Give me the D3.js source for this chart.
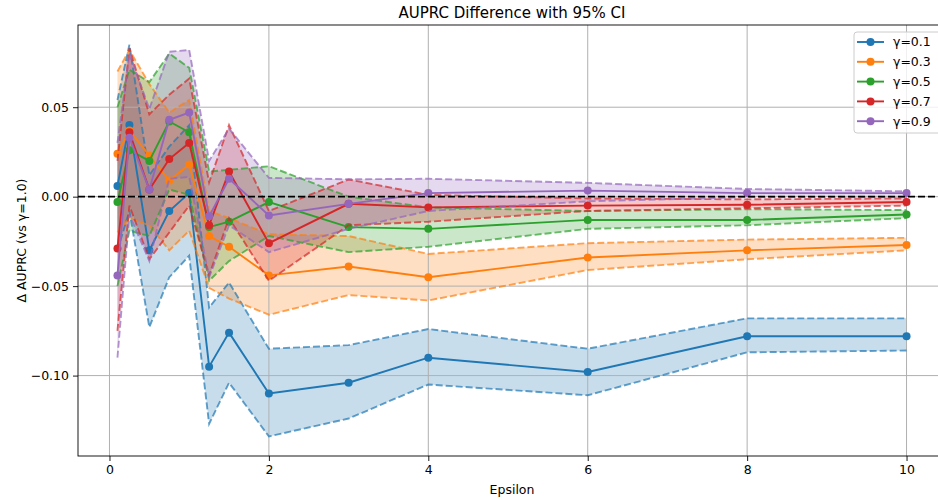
<!DOCTYPE html>
<html>
<head>
<meta charset="utf-8">
<script src="https://cdn.jsdelivr.net/npm/d3@7"></script>
<style>
  body { margin: 0; background: #fff; }
  svg { font-family: "DejaVu Sans", sans-serif; }
</style>
</head>
<body>
<div id="chart"></div>
<script>
// epsilon values on the x axis
var epsilons = [0.1, 0.25, 0.5, 0.75, 1.0, 1.25, 1.5, 2, 3, 4, 6, 8, 10];
var gammaLabels = ["γ=0.1", "γ=0.3", "γ=0.5", "γ=0.7", "γ=0.9"];
var colors = ["#1f77b4", "#ff7f0e", "#2ca02c", "#d62728", "#9467bd"];
var xTicks = [0, 2, 4, 6, 8, 10];
var yTicks = [-0.10, -0.05, 0.00, 0.05];

// mean difference and 95% CI per gamma
var mean01 = [0.006, 0.040, -0.030, -0.008, 0.002, -0.095, -0.076, -0.110, -0.104, -0.090, -0.098, -0.078, -0.078];
var lower01 = [-0.030, -0.008, -0.073, -0.045, -0.033, -0.127, -0.104, -0.134, -0.124, -0.105, -0.111, -0.087, -0.086];
var upper01 = [0.054, 0.085, 0.012, 0.028, 0.040, -0.062, -0.048, -0.085, -0.083, -0.074, -0.085, -0.068, -0.068];

var mean03 = [0.024, 0.037, 0.023, 0.009, 0.018, -0.022, -0.028, -0.044, -0.039, -0.045, -0.034, -0.030, -0.027];
var lower03 = [-0.020, -0.012, -0.016, -0.030, -0.019, -0.051, -0.057, -0.066, -0.055, -0.058, -0.041, -0.035, -0.030];
var upper03 = [0.070, 0.082, 0.063, 0.047, 0.054, -0.008, -0.012, -0.021, -0.022, -0.032, -0.026, -0.024, -0.023];

var mean05 = [-0.003, 0.026, 0.020, 0.042, 0.036, -0.017, -0.014, -0.003, -0.017, -0.018, -0.013, -0.013, -0.010];
var lower05 = [-0.050, -0.019, -0.022, 0.004, 0.001, -0.047, -0.036, -0.022, -0.031, -0.028, -0.018, -0.016, -0.012];
var upper05 = [0.050, 0.071, 0.064, 0.080, 0.072, 0.014, 0.015, 0.017, 0.000, -0.006, -0.008, -0.007, -0.0075];

var mean07 = [-0.029, 0.036, 0.004, 0.021, 0.030, -0.016, 0.014, -0.026, -0.004, -0.006, -0.005, -0.0045, -0.003];
var lower07 = [-0.075, -0.005, -0.035, -0.020, -0.005, -0.044, -0.012, -0.047, -0.016, -0.014, -0.008, -0.0065, -0.005];
var upper07 = [0.020, 0.083, 0.046, 0.057, 0.066, 0.008, 0.040, -0.008, 0.0096, 0.001, -0.001, -0.0015, -0.001];

var mean09 = [-0.044, 0.033, 0.004, 0.043, 0.047, -0.011, 0.010, -0.0105, -0.004, 0.002, 0.0034, 0.002, 0.002];
var lower09 = [-0.090, -0.010, -0.036, 0.010, 0.011, -0.045, -0.016, -0.031, -0.018, -0.008, -0.0026, -0.0003, -0.0003];
var upper09 = [0.030, 0.080, 0.049, 0.081, 0.082, 0.020, 0.038, 0.0105, 0.0097, 0.010, 0.0077, 0.0043, 0.003];

var means = [mean01, mean03, mean05, mean07, mean09];
var lowers = [lower01, lower03, lower05, lower07, lower09];
var uppers = [upper01, upper03, upper05, upper07, upper09];

var width = 938, height = 500;
var mLeft = 78, mRight = 946, mTop = 25, mBottom = 456;

var svg = d3.select("#chart").append("svg")
    .attr("width", width).attr("height", height)
    .style("overflow", "hidden");

// matplotlib style 5% padding
var xExt = d3.extent(epsilons);
var xPad = (xExt[1] - xExt[0]) * 0.05;
var allY = d3.merge(lowers.concat(uppers).concat(means));
var yExt = d3.extent(allY);
var yPad = (yExt[1] - yExt[0]) * 0.05;

var x = d3.scaleLinear().domain([xExt[0] - xPad, xExt[1] + xPad]).range([mLeft, mRight]);
var y = d3.scaleLinear().domain([yExt[0] - yPad, yExt[1] + yPad]).range([mBottom, mTop]);

var plot = svg.append("g");
plot.append("clipPath").attr("id", "clip")
  .append("rect").attr("x", mLeft).attr("y", mTop).attr("width", mRight - mLeft).attr("height", mBottom - mTop);
var inner = plot.append("g").attr("clip-path", "url(#clip)");

// CI fills
var area = d3.area()
    .x(function(d, i) { return x(epsilons[i]); })
    .y0(function(d) { return d[0]; })
    .y1(function(d) { return d[1]; });
for (var g = 0; g < means.length; g++) {
  var band = epsilons.map(function(e, i) { return [y(lowers[g][i]), y(uppers[g][i])]; });
  inner.append("path").datum(band).attr("d", area)
    .attr("fill", colors[g]).attr("fill-opacity", 0.25).attr("stroke", "none");
}

// grid
inner.selectAll(".gx").data(xTicks).enter().append("line")
  .attr("x1", function(d) { return x(d); }).attr("x2", function(d) { return x(d); })
  .attr("y1", mTop).attr("y2", mBottom)
  .attr("stroke", "#b0b0b0").attr("stroke-width", 1);
inner.selectAll(".gy").data(yTicks).enter().append("line")
  .attr("x1", mLeft).attr("x2", mRight)
  .attr("y1", function(d) { return y(d); }).attr("y2", function(d) { return y(d); })
  .attr("stroke", "#b0b0b0").attr("stroke-width", 1);

var line = d3.line()
    .x(function(d, i) { return x(epsilons[i]); })
    .y(function(d) { return y(d); });

for (var g = 0; g < means.length; g++) {
  inner.append("path").datum(means[g]).attr("d", line)
    .attr("fill", "none").attr("stroke", colors[g]).attr("stroke-width", 1.9);
  inner.selectAll(".pt" + g).data(means[g]).enter().append("circle")
    .attr("cx", function(d, i) { return x(epsilons[i]); })
    .attr("cy", function(d) { return y(d); })
    .attr("r", 4).attr("fill", colors[g]);
  [lowers[g], uppers[g]].forEach(function(arr) {
    inner.append("path").datum(arr).attr("d", line)
      .attr("fill", "none").attr("stroke", colors[g]).attr("stroke-width", 1.9)
      .attr("stroke-opacity", 0.7).attr("stroke-dasharray", "7,3");
  });
}

// zero reference line
inner.append("line")
  .attr("x1", mLeft).attr("x2", mRight)
  .attr("y1", y(0)).attr("y2", y(0))
  .attr("stroke", "#000").attr("stroke-width", 1.9).attr("stroke-dasharray", "7,3");

// axes
var fmtY = function(d) { return d3.format(".2f")(d).replace("-", "\u2212"); };
var xAxis = svg.append("g").attr("transform", "translate(0," + mBottom + ")")
  .call(d3.axisBottom(x).tickValues(xTicks).tickSize(5).tickPadding(4).tickFormat(d3.format("d")));
var yAxis = svg.append("g").attr("transform", "translate(" + mLeft + ",0)")
  .call(d3.axisLeft(y).tickValues(yTicks).tickSize(5).tickPadding(4).tickFormat(fmtY));
[xAxis, yAxis].forEach(function(a) {
  a.select(".domain").remove();
  a.selectAll("text").attr("font-size", 12.5).attr("fill", "#000")
    .attr("font-family", "DejaVu Sans, sans-serif");
  a.selectAll("line").attr("stroke", "#000").attr("stroke-width", 0.9);
});

// spines
svg.append("rect").attr("x", mLeft).attr("y", mTop)
  .attr("width", mRight - mLeft).attr("height", mBottom - mTop)
  .attr("fill", "none").attr("stroke", "#000").attr("stroke-width", 0.9);

// title and labels
svg.append("text").attr("x", (mLeft + mRight) / 2).attr("y", 18)
  .attr("text-anchor", "middle").attr("font-size", 15).text("AUPRC Difference with 95% CI");
svg.append("text").attr("x", (mLeft + mRight) / 2).attr("y", 494)
  .attr("text-anchor", "middle").attr("font-size", 12.5).text("Epsilon");
svg.append("text").attr("transform", "translate(26," + ((mTop + mBottom) / 2) + ") rotate(-90)")
  .attr("text-anchor", "middle").attr("font-size", 12.5).text("Δ AUPRC (vs γ=1.0)");

// legend
var lg = svg.append("g").attr("transform", "translate(854,32)");
lg.append("rect").attr("width", 100).attr("height", 101).attr("rx", 3)
  .attr("fill", "#fff").attr("fill-opacity", 0.8).attr("stroke", "#ccc");
gammaLabels.forEach(function(lab, i) {
  var row = lg.append("g").attr("transform", "translate(0," + (10 + i * 19.8) + ")");
  row.append("line").attr("x1", 3).attr("x2", 30).attr("stroke", colors[i]).attr("stroke-width", 1.9);
  row.append("circle").attr("cx", 16.5).attr("r", 4).attr("fill", colors[i]);
  row.append("text").attr("x", 39).attr("dy", "0.35em").attr("font-size", 12.5).text(lab);
});
</script>
</body>
</html>
